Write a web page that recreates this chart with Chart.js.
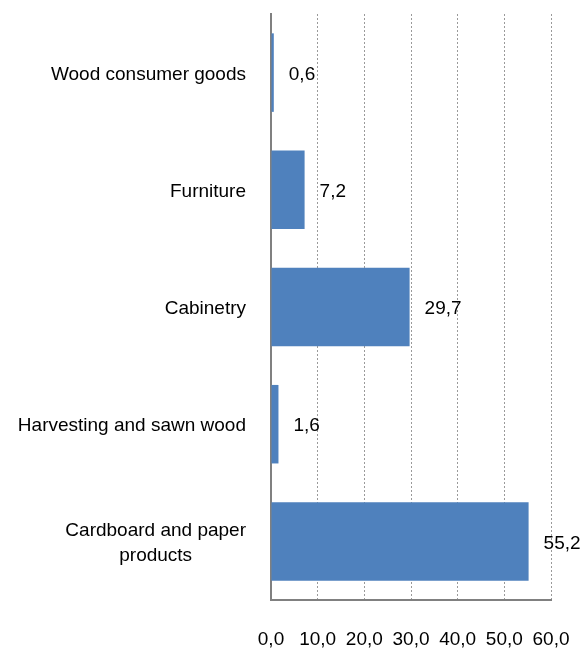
<!DOCTYPE html>
<html>
<head>
<meta charset="utf-8">
<script src="https://cdn.jsdelivr.net/npm/chart.js@4/dist/chart.umd.min.js"></script>
<style>
  html, body { margin: 0; padding: 0; background: #fff; }
  #wrap { width: 584px; height: 648px; }
</style>
</head>
<body>
<div id="wrap"><canvas id="grafico"></canvas></div>
<script>
const categorias = [
  'Wood consumer goods',
  'Furniture',
  'Cabinetry',
  'Harvesting and sawn wood',
  ['Cardboard and paper', 'products']
];
const valores = [0.6, 7.2, 29.7, 1.6, 55.2];
const ticksX = [0, 10, 20, 30, 40, 50, 60];

const fuente = "'Liberation Sans', Arial, sans-serif";
const tamano = 19;
Chart.defaults.font.family = fuente;
Chart.defaults.font.size = tamano;
Chart.defaults.color = '#000';

const coma = (v, d) => v.toFixed(d).replace('.', ',');

// valores al final de cada barra
const etiquetasValores = {
  id: 'etiquetasValores',
  afterDatasetsDraw(chart) {
    const ctx = chart.ctx;
    const meta = chart.getDatasetMeta(0);
    ctx.save();
    ctx.font = tamano + 'px ' + fuente;
    ctx.fillStyle = '#000';
    ctx.textAlign = 'left';
    ctx.textBaseline = 'middle';
    meta.data.forEach((barra, i) => {
      ctx.fillText(coma(valores[i], 1), barra.x + 15, barra.y + 2);
    });
    ctx.restore();
  }
};

// categorias: cada linea centrada, el bloque pegado a la derecha
const etiquetasCategorias = {
  id: 'etiquetasCategorias',
  afterDraw(chart) {
    const ctx = chart.ctx;
    const escala = chart.scales.y;
    const derecha = escala.right - 25;
    ctx.save();
    ctx.font = tamano + 'px ' + fuente;
    ctx.fillStyle = '#000';
    ctx.textAlign = 'center';
    ctx.textBaseline = 'middle';
    categorias.forEach((cat, i) => {
      const lineas = Array.isArray(cat) ? cat : [cat];
      const ancho = Math.max(...lineas.map((l) => ctx.measureText(l).width));
      const y = escala.getPixelForTick(i);
      const alto = 25;
      lineas.forEach((l, j) => {
        const yl = y + (j - (lineas.length - 1) / 2) * alto + 2;
        ctx.fillText(l, derecha - ancho / 2, yl);
      });
    });
    ctx.restore();
  }
};

const ctx = document.getElementById('grafico');
new Chart(ctx, {
  type: 'bar',
  data: {
    labels: categorias,
    datasets: [{
      data: valores,
      backgroundColor: '#4F81BD',
      barPercentage: 0.67,
      categoryPercentage: 1.0
    }]
  },
  options: {
    indexAxis: 'y',
    responsive: true,
    maintainAspectRatio: false,
    animation: false,
    layout: {
      padding: { top: 14, right: 33, left: 0, bottom: 0 }
    },
    plugins: {
      legend: { display: false },
      tooltip: { enabled: false }
    },
    scales: {
      x: {
        min: 0,
        max: 60,
        afterBuildTicks(eje) {
          eje.ticks = ticksX.map((v) => ({ value: v }));
        },
        afterFit(eje) {
          eje.height = 48;
          eje.paddingLeft = 0;
          eje.paddingRight = 0;
        },
        grid: {
          color: '#9a9a9a',
          lineWidth: 1,
          drawTicks: false
        },
        border: {
          display: true,
          color: '#808080',
          width: 2,
          dash: [2, 2]
        },
        ticks: {
          padding: 28,
          maxRotation: 0,
          autoSkip: false,
          callback: (v) => coma(v, 1)
        }
      },
      y: {
        afterFit(eje) {
          eje.width = 271;
          eje.paddingTop = 0;
          eje.paddingBottom = 0;
        },
        grid: { display: false, drawTicks: false },
        border: {
          display: true,
          color: '#808080',
          width: 2
        },
        ticks: {
          display: false
        }
      }
    }
  },
  plugins: [etiquetasValores, etiquetasCategorias]
});
</script>
</body>
</html>
